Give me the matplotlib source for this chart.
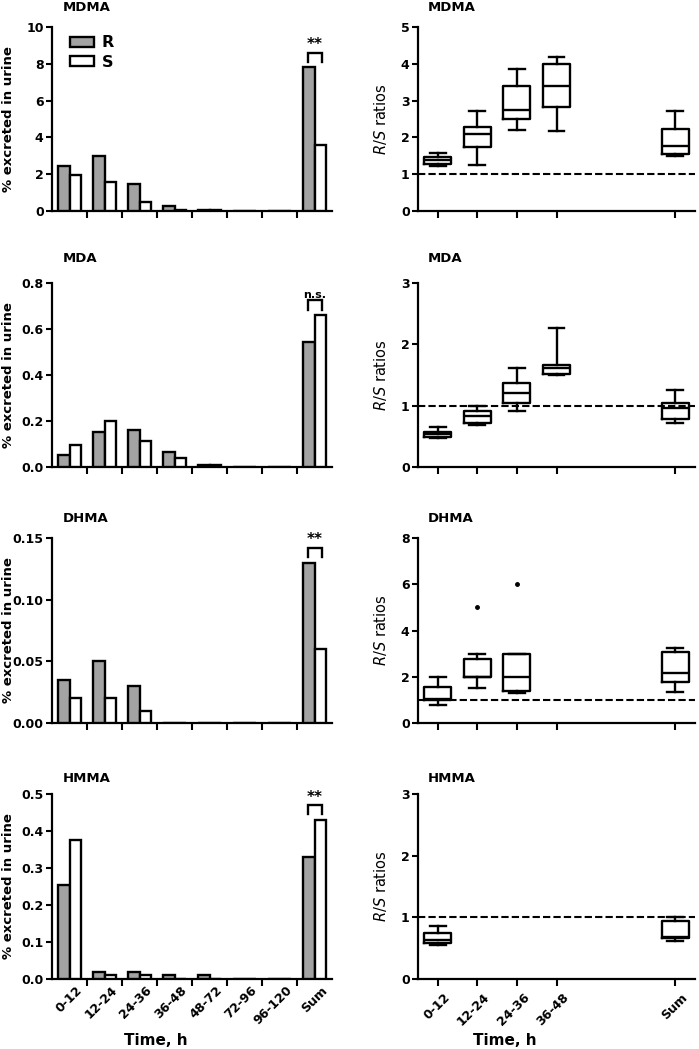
import matplotlib
matplotlib.use('Agg')
import matplotlib.pyplot as plt
import matplotlib.transforms as mtransforms

plt.rcParams['font.family'] = ['DejaVu Sans']
plt.rcParams['font.weight'] = 'bold'
plt.rcParams['axes.labelweight'] = 'bold'
plt.rcParams['mathtext.fontset'] = 'custom'
plt.rcParams['mathtext.it'] = 'DejaVu Sans:style=italic:weight=normal'
plt.rcParams['mathtext.rm'] = 'DejaVu Sans:weight=normal'

# Etiquetas de tiempo
time_labels = ['0-12', '12-24', '24-36', '36-48', '48-72', '72-96', '96-120', 'Sum']
ratio_labels = ['0-12', '12-24', '24-36', '36-48', 'Sum']

# % excretado en orina (R y S)
mdma_r = [2.42, 3.0, 1.46, 0.27, 0.05, 0.02, 0.0, 7.8]
mdma_s = [1.96, 1.56, 0.49, 0.08, 0.03, 0.01, 0.0, 3.6]
mda_r = [0.052, 0.153, 0.16, 0.066, 0.01, 0.0, 0.0, 0.545]
mda_s = [0.096, 0.2, 0.112, 0.037, 0.01, 0.0, 0.0, 0.66]
dhma_r = [0.035, 0.05, 0.03, 0.0, 0.0, 0.0, 0.0, 0.13]
dhma_s = [0.02, 0.02, 0.01, 0.0, 0.0, 0.0, 0.0, 0.06]
hmma_r = [0.255, 0.02, 0.02, 0.01, 0.01, 0.0, 0.0, 0.33]
hmma_s = [0.375, 0.01, 0.01, 0.0, 0.0, 0.0, 0.0, 0.43]

# Significancia (Sum)
mdma_sig = '**'
mda_sig = 'n.s.'
dhma_sig = '**'
hmma_sig = '**'

# Ratios R/S: (min, q1, mediana, q3, max)
mdma_ratio = [(1.22, 1.28, 1.38, 1.48, 1.58), (1.26, 1.75, 2.09, 2.27, 2.72),
              (2.2, 2.49, 2.75, 3.41, 3.86), (2.17, 2.82, 3.41, 4.0, 4.19),
              (1.49, 1.55, 1.76, 2.22, 2.72)]
mda_ratio = [(0.47, 0.49, 0.53, 0.57, 0.65), (0.68, 0.72, 0.83, 0.91, 1.0),
             (0.91, 1.05, 1.2, 1.37, 1.62), (1.5, 1.51, 1.62, 1.67, 2.26),
             (0.72, 0.79, 0.97, 1.05, 1.26)]
dhma_ratio = [(0.78, 1.0, 1.05, 1.57, 2.0), (1.5, 2.0, 2.0, 2.76, 2.99),
              (1.3, 1.4, 2.0, 3.0, 3.0), None,
              (1.36, 1.79, 2.18, 3.09, 3.23)]
hmma_ratio = [(0.55, 0.59, 0.64, 0.75, 0.86), None, None, None,
              (0.62, 0.67, 0.68, 0.94, 1.0)]
dhma_outliers = [[], [5.0], [6.0], [], []]

GRIS = '#a3a3a3'
LW = 1.7


def estilo_ejes(ax):
    """Ejes al estilo GraphPad."""
    for lado in ['top', 'right']:
        ax.spines[lado].set_visible(False)
    for lado in ['left', 'bottom']:
        ax.spines[lado].set_linewidth(1.6)
    ax.tick_params(axis='both', which='both', direction='out', length=4,
                   width=1.5, labelsize=9, pad=2)


def etiquetas_rotadas(ax, fig, posiciones, etiquetas):
    """Etiquetas del eje x rotadas 45 grados."""
    ax.set_xticks(posiciones)
    ax.set_xticklabels(etiquetas, rotation=45, ha='right', rotation_mode='anchor',
                       fontsize=9)
    desplazamiento = mtransforms.ScaledTranslation(6 / 100, -2 / 100, fig.dpi_scale_trans)
    for lbl in ax.get_xticklabels():
        lbl.set_transform(lbl.get_transform() + desplazamiento)


def grafico_barras(ax, fig, titulo, r, s, ymax, paso, fmt, sig, titulo_off,
                   leyenda=False, abajo=False):
    """Barras R y S de % excretado."""
    estilo_ejes(ax)
    x = list(range(len(time_labels)))
    ancho = 0.34
    ax.bar([i - ancho / 2 for i in x], r, width=ancho, color=GRIS, edgecolor='black',
           linewidth=LW, label='R', zorder=3)
    ax.bar([i + ancho / 2 for i in x], s, width=ancho, color='white', edgecolor='black',
           linewidth=LW, label='S', zorder=3)
    ax.set_xlim(-0.5, 7.5)
    ax.set_ylim(0, ymax)
    ticks = [paso * k for k in range(int(round(ymax / paso)) + 1)]
    ax.set_yticks(ticks)
    ax.set_yticklabels([fmt.format(t) for t in ticks])
    ax.set_xticks([i + 0.5 for i in x[:-1]], minor=True)
    ax.tick_params(axis='x', which='major', length=0)
    ax.tick_params(axis='x', which='minor', length=5)
    if abajo:
        etiquetas_rotadas(ax, fig, x, time_labels)
        ax.set_xlabel('Time, h', fontsize=11, fontweight='bold')
        ax.xaxis.set_label_coords(0.37, -0.29)
    else:
        ax.set_xticks(x)
        ax.set_xticklabels([])

    # Corchete de significancia sobre "Sum"
    i = len(time_labels) - 1
    tope = max(r[i], s[i])
    y0 = tope + 0.03 * ymax
    y1 = tope + 0.08 * ymax
    xr, xs = i - 0.2, i + 0.2
    ax.plot([xr, xr, xs, xs], [y0, y1, y1, y0], color='black', lw=LW,
            clip_on=False, solid_joinstyle='miter', zorder=4)
    ax.text(i, y1 + 0.002 * ymax, sig, ha='center', va='bottom',
            fontsize=11 if sig == '**' else 8, fontweight='bold')

    ax.set_ylabel('% excreted in urine', fontsize=9.5, fontweight='bold')
    ax.yaxis.set_label_coords(-0.132, 0.5)
    ax.text(0.04, 1 + titulo_off / 185, titulo, transform=ax.transAxes,
            ha='left', va='center', fontsize=9.5, fontweight='bold')
    if leyenda:
        ax.legend(loc='upper left', bbox_to_anchor=(0.04, 0.99), frameon=False,
                  fontsize=11.5, handlelength=1.5, handleheight=0.6,
                  handletextpad=0.5, labelspacing=0.3, borderaxespad=0)


def grafico_cajas(ax, fig, titulo, cajas, ymax, paso, titulo_off, atipicos=None,
                  abajo=False):
    """Box plots de ratios R/S."""
    estilo_ejes(ax)
    n = len(ratio_labels)
    posiciones = list(range(n - 1)) + [n + 1]
    stats = []
    pos_usadas = []
    for k, c in enumerate(cajas):
        if c is None:
            continue
        stats.append({'whislo': c[0], 'q1': c[1], 'med': c[2], 'q3': c[3],
                      'whishi': c[4],
                      'fliers': atipicos[k] if atipicos else []})
        pos_usadas.append(posiciones[k])
    ax.bxp(stats, positions=pos_usadas, widths=0.68, capwidths=0.4,
           boxprops=dict(linewidth=LW, color='black'),
           medianprops=dict(linewidth=LW, color='black'),
           whiskerprops=dict(linewidth=LW, color='black'),
           capprops=dict(linewidth=LW, color='black'),
           flierprops=dict(marker='o', markersize=2.5, markerfacecolor='black',
                           markeredgecolor='black'),
           manage_ticks=False, zorder=3)
    ax.axhline(1, color='black', lw=1.5, ls=(0, (3.5, 1.5)), zorder=2)
    ax.set_xlim(-0.5, 6.5)
    ax.set_ylim(0, ymax)
    ax.set_yticks([paso * k for k in range(int(round(ymax / paso)) + 1)])
    ax.tick_params(axis='x', length=5)
    if abajo:
        etiquetas_rotadas(ax, fig, posiciones, ratio_labels)
        ax.set_xlabel('Time, h', fontsize=11, fontweight='bold')
        ax.xaxis.set_label_coords(0.314, -0.29)
    else:
        ax.set_xticks(posiciones)
        ax.set_xticklabels([])
    ax.set_ylabel('$R/S$ ratios', fontsize=10.5, fontweight='normal')
    ax.yaxis.set_label_coords(-0.105, 0.5)
    ax.text(0.036, 1 + titulo_off / 185, titulo, transform=ax.transAxes,
            ha='left', va='center', fontsize=9.5, fontweight='bold')


def main():
    fig = plt.figure(figsize=(6.99, 10.49), dpi=100)
    W, H = 699, 1049
    filas = [(27, 211), (283, 467), (538, 723), (794, 979)]
    offs = [20, 25, 20, 16]

    ejes_izq = []
    ejes_der = []
    for top, bottom in filas:
        ejes_izq.append(fig.add_axes([52 / W, 1 - bottom / H, 280 / W, (bottom - top) / H]))
        ejes_der.append(fig.add_axes([418 / W, 1 - bottom / H, 277 / W, (bottom - top) / H]))

    grafico_barras(ejes_izq[0], fig, 'MDMA', mdma_r, mdma_s, 10, 2, '{:.0f}', mdma_sig,
                   offs[0], leyenda=True)
    grafico_barras(ejes_izq[1], fig, 'MDA', mda_r, mda_s, 0.8, 0.2, '{:.1f}', mda_sig,
                   offs[1])
    grafico_barras(ejes_izq[2], fig, 'DHMA', dhma_r, dhma_s, 0.15, 0.05, '{:.2f}', dhma_sig,
                   offs[2])
    grafico_barras(ejes_izq[3], fig, 'HMMA', hmma_r, hmma_s, 0.5, 0.1, '{:.1f}', hmma_sig,
                   offs[3], abajo=True)

    grafico_cajas(ejes_der[0], fig, 'MDMA', mdma_ratio, 5, 1, offs[0])
    grafico_cajas(ejes_der[1], fig, 'MDA', mda_ratio, 3, 1, offs[1])
    grafico_cajas(ejes_der[2], fig, 'DHMA', dhma_ratio, 8, 2, offs[2], atipicos=dhma_outliers)
    grafico_cajas(ejes_der[3], fig, 'HMMA', hmma_ratio, 3, 1, offs[3], abajo=True)

    fig.savefig('out.png', dpi=100)


if __name__ == '__main__':
    main()
